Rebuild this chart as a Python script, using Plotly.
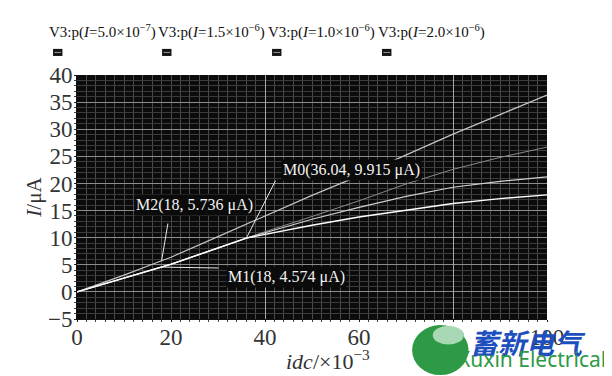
import plotly.graph_objects as go

# ---- data ----
idc = [0, 10, 18, 20, 30, 36.04, 40, 50, 60, 70, 80, 90, 100]
i_top = [0, 3.1, 5.736, 6.4, 10.2, 12.5, 14.1, 17.8, 21.4, 25.3, 29.1, 32.7, 36.3]
i_second = [0, 2.5, 4.574, 5.1, 8.1, 9.915, 11.1, 13.9, 16.8, 19.9, 22.6, 24.8, 26.7]
i_third = [0, 2.5, 4.574, 5.1, 8.1, 9.915, 10.9, 13.4, 15.6, 17.6, 19.3, 20.4, 21.2]
i_fourth = [0, 2.5, 4.574, 5.1, 8.1, 9.915, 10.6, 12.3, 13.8, 15.1, 16.3, 17.2, 17.9]

legend_labels = [
    "V3:p(<i>I</i>=5.0×10<sup>−7</sup>)",
    "V3:p(<i>I</i>=1.5×10<sup>−6</sup>)",
    "V3:p(<i>I</i>=1.0×10<sup>−6</sup>)",
    "V3:p(<i>I</i>=2.0×10<sup>−6</sup>)",
]
legend_x = [-0.064, 0.168, 0.402, 0.636]

markers = [
    ("M0(36.04, 9.915 μA)", 36.04, 9.915, 58.3, 22.5, 42.4, 20.8),
    ("M2(18, 5.736 μA)", 18, 5.736, 25.0, 16.0, 19.4, 12.9),
    ("M1(18, 4.574 μA)", 18, 4.574, 44.6, 2.7, 30.4, 4.4),
]

x_ticks = [0, 20, 40, 60, 80, 100]
y_ticks = [-5, 0, 5, 10, 15, 20, 25, 30, 35, 40]

SERIF = "Liberation Serif, Times New Roman, serif"

fig = go.Figure()
series = [
    (i_top, "#c4c4c4", 1.2),
    (i_second, "#8a8a8a", 1.0),
    (i_third, "#cfcfcf", 1.2),
    (i_fourth, "#ffffff", 1.4),
]
for (vals, col, w), name in zip(series, ["I=2.0e-6", "I=1.5e-6", "I=1.0e-6", "I=5.0e-7"]):
    fig.add_trace(go.Scatter(x=idc, y=vals, mode="lines", name=name,
                             line=dict(color=col, width=w), showlegend=False,
                             hoverinfo="skip"))

# dummy trace for the overlaying axis carrying the bright vertical grid
fig.add_trace(go.Scatter(x=[None], y=[None], xaxis="x2", showlegend=False))

# the page body adds an 8px margin, so the figure is 8px smaller and margins shifted
fig.update_layout(
    width=604, height=368,
    margin=dict(l=69, r=65, t=67, b=57, autoexpand=False),
    paper_bgcolor="white",
    plot_bgcolor="#0b0b0b",
    font=dict(family=SERIF, color="#222"),
    xaxis=dict(
        range=[0, 100], tickvals=x_ticks, ticktext=[str(v) for v in x_ticks],
        showgrid=False, zeroline=False, automargin=False,
        showline=True, linecolor="#111", linewidth=1,
        ticks="outside", ticklen=2, tickcolor="#222", ticklabelstandoff=-5,
        tickfont=dict(family=SERIF, size=23, color="#333"),
        minor=dict(dtick=2, showgrid=True, gridcolor="#4a4a4a", gridwidth=1,
                   ticks="outside", ticklen=2, tickcolor="#444"),
    ),
    xaxis2=dict(
        range=[0, 100], overlaying="x", dtick=40, tick0=0, automargin=False,
        showgrid=True, gridcolor="#a8a8a8", gridwidth=1,
        showticklabels=False, zeroline=False, showline=False, ticks="",
    ),
    yaxis=dict(
        range=[-5, 40], tickvals=y_ticks, automargin=False,
        ticktext=[("−5" if v == -5 else str(v)) for v in y_ticks],
        showgrid=True, gridcolor="#8c8c8c", gridwidth=1, zeroline=False,
        showline=True, linecolor="#111", linewidth=1,
        ticks="outside", ticklen=2, tickcolor="#222", ticklabelstandoff=-3,
        tickfont=dict(family=SERIF, size=23, color="#333"),
        minor=dict(dtick=1, showgrid=True, gridcolor="#3c3c3c", gridwidth=1,
                   ticks="outside", ticklen=2, tickcolor="#444"),
        title=dict(text="<i>I</i>/μA", font=dict(family=SERIF, size=21, color="#333"),
                   standoff=0),
    ),
)

annotations = []
shapes = []

# x-axis title (placed right of centre, as in the reference)
annotations.append(dict(text="<i>idc</i>/×10<sup>−3</sup>", xref="paper", yref="paper",
                        x=0.535, y=-0.17, xanchor="center", yanchor="middle", showarrow=False,
                        font=dict(family=SERIF, size=22, color="#333")))

# legend-like header
for lab, lx in zip(legend_labels, legend_x):
    annotations.append(dict(text=lab, xref="paper", yref="paper", x=lx, y=1.18,
                            xanchor="left", yanchor="middle", showarrow=False,
                            font=dict(family=SERIF, size=15, color="#111")))
    sx0 = lx + 0.013
    shapes.append(dict(type="rect", xref="paper", yref="paper", x0=sx0, x1=sx0 + 0.02,
                       y0=1.078, y1=1.107, fillcolor="#151515", line=dict(width=0)))
    shapes.append(dict(type="line", xref="paper", yref="paper", x0=sx0 + 0.003, x1=sx0 + 0.017,
                       y0=1.0925, y1=1.0925, line=dict(color="#9a9a9a", width=1)))

# marker labels and leader lines
for txt, hx, hy, tx, ty, lx0, ly0 in markers:
    annotations.append(dict(text=txt, x=tx, y=ty, xref="x", yref="y", showarrow=False,
                            xanchor="center", yanchor="middle",
                            bgcolor="#0b0b0b", borderpad=1,
                            font=dict(family=SERIF, size=16, color="#f2f2f2")))
    annotations.append(dict(text="", x=hx, y=hy, xref="x", yref="y",
                            ax=lx0, ay=ly0, axref="x", ayref="y",
                            showarrow=True, arrowhead=0, arrowwidth=1, arrowcolor="#e8e8e8"))

# watermark
shapes.append(dict(type="circle", xref="paper", yref="paper", x0=0.713, x1=0.833,
                   y0=-0.23, y1=-0.025, fillcolor="#2e9a46", line=dict(width=0), layer="above"))
shapes.append(dict(type="circle", xref="paper", yref="paper", x0=0.757, x1=0.823,
                   y0=-0.105, y1=-0.028, fillcolor="#a9d8b4", line=dict(width=0), layer="above"))
annotations.append(dict(text="<b><i>蓄新电气</i></b>", xref="paper", yref="paper", x=0.96, y=-0.094,
                        xanchor="center", yanchor="middle", showarrow=False,
                        font=dict(family="Noto Sans CJK SC", size=28, color="#1d4fbf")))
annotations.append(dict(text="Xuxin Electrical", xref="paper", yref="paper", x=0.968, y=-0.164,
                        xanchor="center", yanchor="middle", showarrow=False,
                        font=dict(family="Noto Sans", size=21, color="#2e9a46")))

fig.update_layout(annotations=annotations, shapes=shapes)
fig.write_html("out.html")
